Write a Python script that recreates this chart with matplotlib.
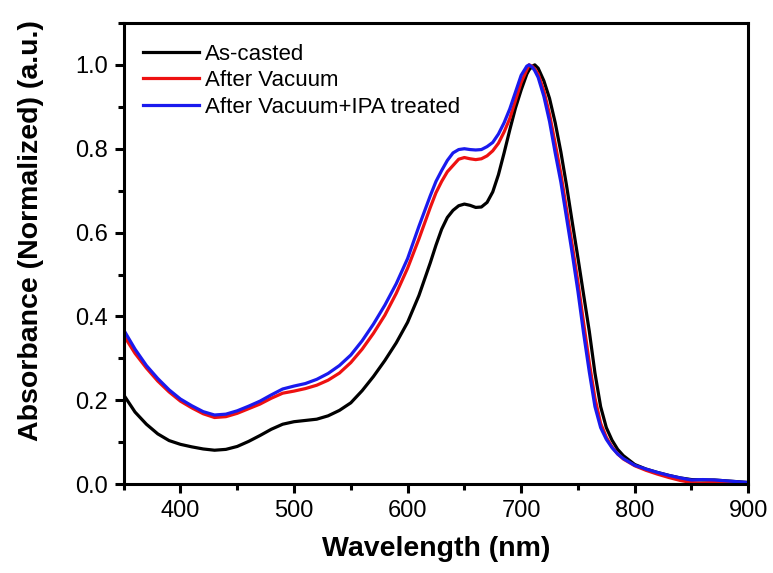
#!/usr/bin/env python3
"""Normalized absorbance spectra: as-casted vs. vacuum vs. vacuum+IPA."""

import matplotlib

matplotlib.use("Agg")
import matplotlib.pyplot as plt
from matplotlib.ticker import FormatStrFormatter, MultipleLocator


wavelength = [
    350, 360, 370, 380, 390, 400, 410, 420, 430, 440, 450, 460, 470, 480, 490,
    500, 510, 520, 530, 540, 550, 560, 570, 580, 590, 600, 610, 620, 625, 630, 635,
    640, 645, 650, 655, 660, 665, 670, 675, 680, 685, 690, 695, 700,
    705, 707, 710, 712,
    715, 720, 725, 730, 735, 740, 745, 750, 755, 760, 765, 770, 775, 780, 785,
    790, 800, 810, 820, 830, 840, 850, 860, 870, 880, 890, 900,
]

as_casted = [
    0.213, 0.172, 0.143, 0.120, 0.104, 0.095, 0.089, 0.084, 0.081, 0.083, 0.090, 0.102, 0.116, 0.131, 0.143,
    0.149, 0.152, 0.155, 0.163, 0.176, 0.194, 0.223, 0.257, 0.295, 0.337, 0.386, 0.450, 0.528, 0.570, 0.608, 0.636,
    0.653, 0.664, 0.668, 0.665, 0.660, 0.661, 0.672, 0.697, 0.738, 0.790, 0.845, 0.897, 0.940,
    0.978, 0.988, 0.997, 1.000,
    0.992, 0.962, 0.920, 0.862, 0.792, 0.712, 0.625, 0.540, 0.452, 0.365, 0.265, 0.185, 0.135, 0.105, 0.083,
    0.068, 0.047, 0.036, 0.028, 0.021, 0.015, 0.011, 0.010, 0.010, 0.008, 0.006, 0.004,
]

after_vacuum = [
    0.355, 0.312, 0.277, 0.246, 0.220, 0.198, 0.182, 0.168, 0.159, 0.161, 0.169, 0.180, 0.191, 0.205, 0.217,
    0.222, 0.228, 0.236, 0.248, 0.265, 0.290, 0.322, 0.360, 0.403, 0.455, 0.515, 0.585, 0.660, 0.695, 0.722, 0.745,
    0.760, 0.775, 0.779, 0.776, 0.774, 0.776, 0.783, 0.795, 0.813, 0.840, 0.872, 0.915, 0.958,
    0.988, 1.000, 0.996, 0.990,
    0.978, 0.938, 0.882, 0.812, 0.740, 0.655, 0.570, 0.482, 0.385, 0.290, 0.205, 0.145, 0.112, 0.089, 0.072,
    0.060, 0.044, 0.033, 0.024, 0.016, 0.009, 0.004, 0.002, 0.005, 0.004, 0.003, 0.002,
]

after_vacuum_ipa = [
    0.368, 0.322, 0.283, 0.252, 0.225, 0.203, 0.187, 0.173, 0.165, 0.167, 0.175, 0.186, 0.198, 0.213, 0.227,
    0.234, 0.240, 0.250, 0.264, 0.283, 0.308, 0.342, 0.382, 0.427, 0.478, 0.538, 0.615, 0.688, 0.722, 0.748, 0.772,
    0.790, 0.798, 0.800, 0.798, 0.797, 0.798, 0.805, 0.815, 0.835, 0.862, 0.895, 0.935, 0.975,
    0.997, 1.000, 0.994, 0.986,
    0.970, 0.925, 0.865, 0.790, 0.720, 0.635, 0.550, 0.460, 0.360, 0.268, 0.185, 0.135, 0.107, 0.087, 0.072,
    0.061, 0.045, 0.036, 0.028, 0.021, 0.015, 0.010, 0.011, 0.010, 0.008, 0.006, 0.004,
]

series = [
    ("As-casted", as_casted, "#000000"),
    ("After Vacuum", after_vacuum, "#ee1111"),
    ("After Vacuum+IPA treated", after_vacuum_ipa, "#1a1aee"),
]


def main() -> None:
    plt.rcParams["font.family"] = ["Liberation Sans", "DejaVu Sans"]

    fig = plt.figure(figsize=(7.73, 5.73), dpi=100)
    ax = fig.add_axes([0.16, 0.155, 0.808, 0.805])

    for label, values, color in series:
        ax.plot(wavelength, values, color=color, linewidth=2.3, label=label,
                solid_joinstyle="round")

    ax.set_xlim(350, 900)
    ax.set_ylim(0, 1.1)
    ax.xaxis.set_major_locator(MultipleLocator(100))
    ax.xaxis.set_minor_locator(MultipleLocator(50))
    ax.yaxis.set_major_locator(MultipleLocator(0.2))
    ax.yaxis.set_minor_locator(MultipleLocator(0.1))
    ax.yaxis.set_major_formatter(FormatStrFormatter("%.1f"))

    for spine in ax.spines.values():
        spine.set_linewidth(2.2)
    ax.tick_params(which="both", direction="out", top=False, right=False, width=2.2)
    ax.tick_params(which="major", length=6.5, labelsize=17, pad=5)
    ax.tick_params(which="minor", length=4)

    ax.set_xlabel("Wavelength (nm)", fontsize=20.5, fontweight="bold", labelpad=10)
    ax.set_ylabel("Absorbance (Normalized) (a.u.)", fontsize=20.5, fontweight="bold")
    ax.yaxis.set_label_coords(-0.128, 0.55)

    ax.legend(
        loc="upper left",
        bbox_to_anchor=(0.031, 0.955),
        frameon=False,
        fontsize=16,
        borderpad=0,
        borderaxespad=0,
        handlelength=2.5,
        handletextpad=0.3,
        labelspacing=0.25,
    )

    fig.savefig("out.png", dpi=100, facecolor="white")
    plt.close(fig)


if __name__ == "__main__":
    main()
